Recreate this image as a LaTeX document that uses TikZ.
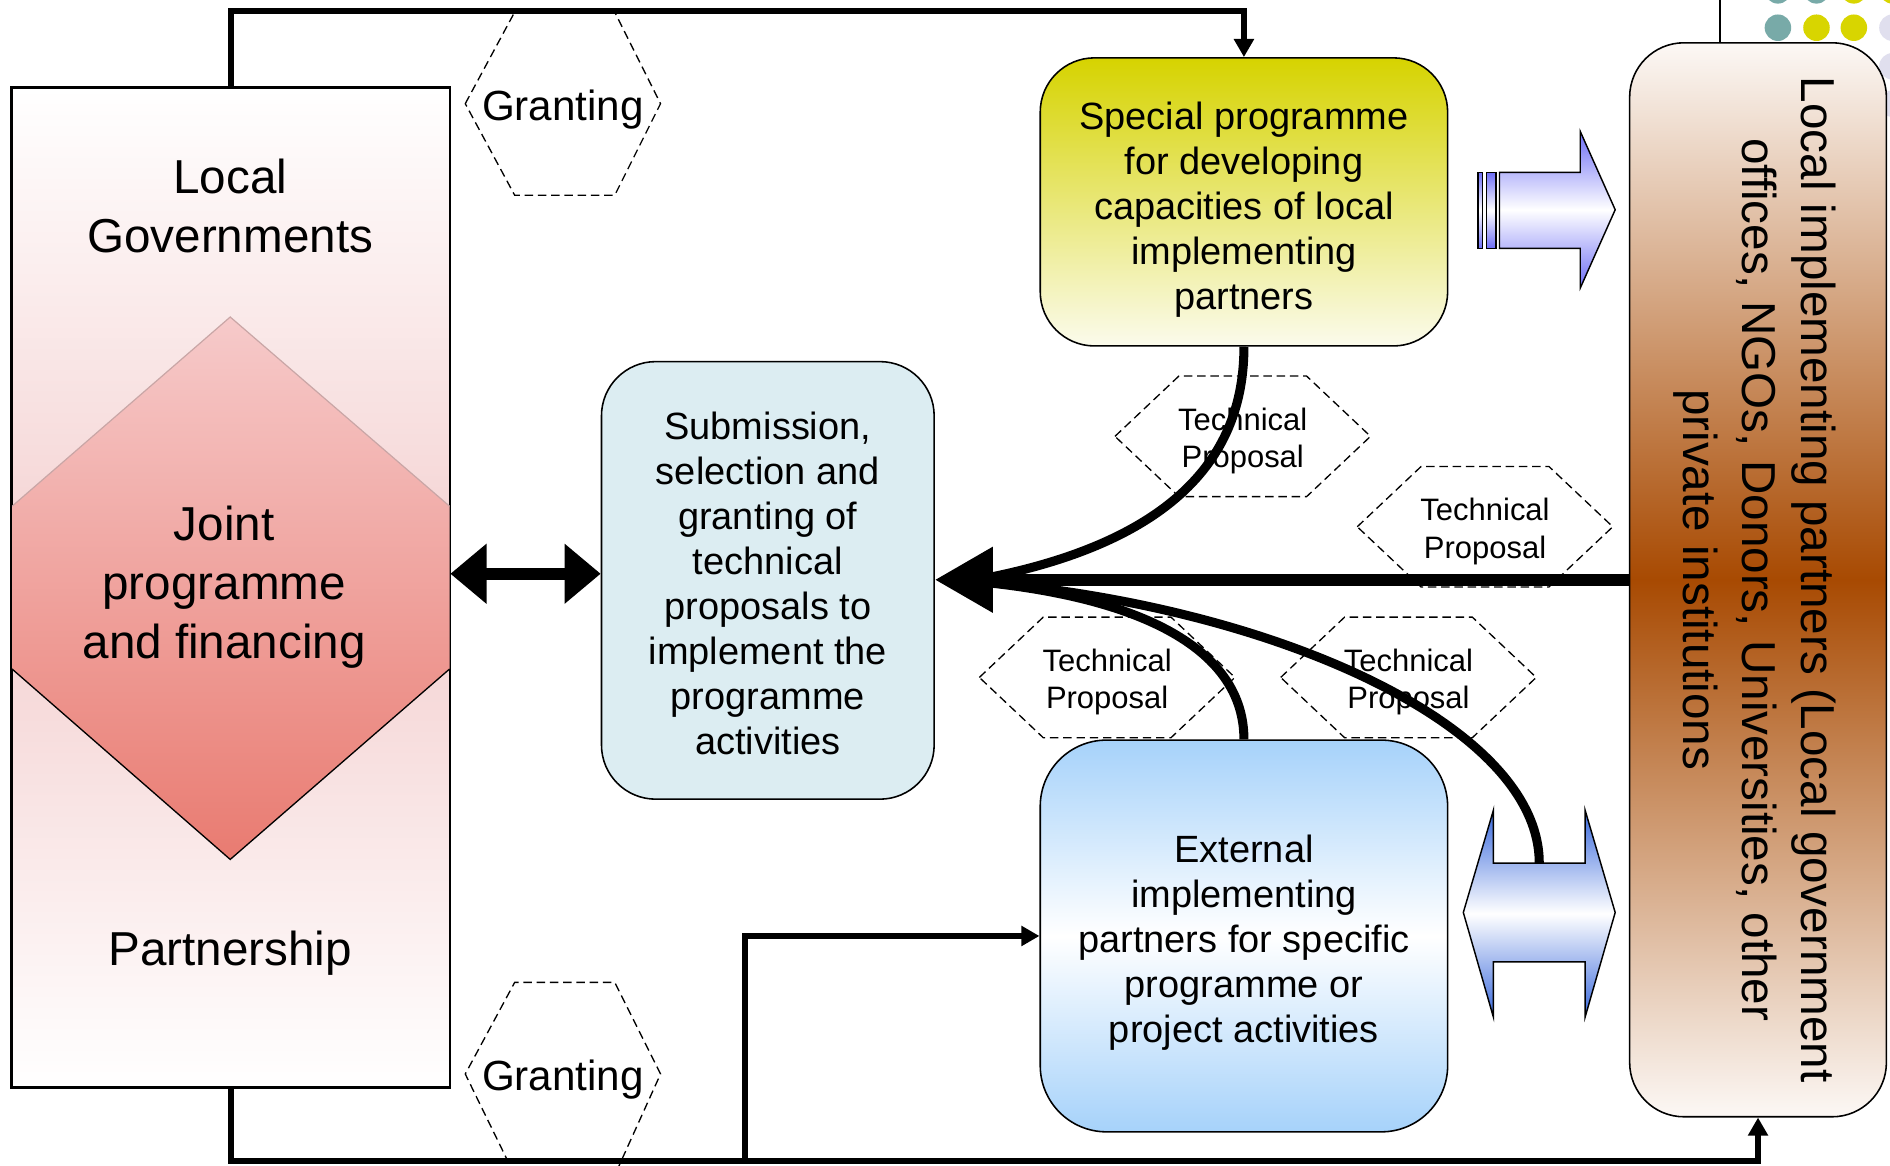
\documentclass[tikz,border=0pt]{standalone}
\usepackage{fontspec}
\setmainfont{Liberation Sans}
\usetikzlibrary{arrows.meta,calc}

\definecolor{lgpink}{HTML}{F4D0D0}
\definecolor{jptop}{HTML}{F6CACA}
\definecolor{jpbot}{HTML}{E97B71}
\definecolor{jpedge}{HTML}{C9A6A6}
\definecolor{subfill}{HTML}{DCEDF2}
\definecolor{spectop}{HTML}{D6D300}
\definecolor{specbot}{HTML}{FBFBEC}
\definecolor{extblue}{HTML}{A6D2FA}
\definecolor{locdark}{HTML}{A84A02}
\definecolor{loclight}{HTML}{FCF8F5}
\definecolor{arrviolet}{HTML}{6E6EF6}
\definecolor{arrblue}{HTML}{3868DC}
\definecolor{dotteal}{HTML}{78AAA8}
\definecolor{dotyellow}{HTML}{D8D500}
\definecolor{dotlav}{HTML}{E0DFEE}

\newcommand{\fbig}{\fontsize{39.5pt}{49pt}\selectfont}
\newcommand{\fmid}{\fontsize{31.5pt}{37.3pt}\selectfont}
\newcommand{\fsmall}{\fontsize{25.7pt}{31pt}\selectfont}
\newcommand{\fgrant}{\fontsize{35pt}{40pt}\selectfont}

\tikzset{
  box/.style={draw, line width=1.3pt, inner sep=0pt},
  txt/.style={align=center, inner sep=0pt},
  conn/.style={line width=4.8pt, -{Triangle[length=15pt,width=16pt]}},
  feed/.style={line width=7.5pt},
  hexline/.style={line width=1.1pt, dash pattern=on 7pt off 4pt},
}

\begin{document}
\begin{tikzpicture}[x=1pt, y=-1pt]
\useasboundingbox (0,0) rectangle (1568,967);
\clip (0,0) rectangle (1568,967);
\fill[white] (0,0) rectangle (1568,967);

% decorative dots and frame line, top right
\foreach \cx/\cy/\cc in {1475/-8/dotteal, 1507/-8/dotteal, 1538/-8/dotyellow, 1570/-8/dotyellow,
                         1475/23/dotteal, 1507/23/dotyellow, 1538/23/dotyellow, 1570/23/dotlav,
                         1570/55/dotlav, 1570/86/dotlav}
  \fill[\cc] (\cx,\cy) circle (11);
\draw[line width=1.5pt] (1427,0) -- (1427,40);

% left column: local governments / partnership
\node[box, minimum width=363pt, minimum height=829pt,
      top color=white, bottom color=white, middle color=lgpink] (lg) at (191.5,487.5) {};
\shade[top color=jptop, bottom color=jpbot]
  (191,263) -- (373,420) -- (373,555) -- (191,713) -- (10,555) -- (10,420) -- cycle;
\draw[jpedge, line width=1pt] (10,420) -- (191,263) -- (373,420);
\draw[line width=1.1pt] (10,555) -- (191,713) -- (373,555);
\draw[line width=1.3pt] (lg.north west) rectangle (lg.south east);
\node[txt, font=\fbig] (lgt) at (191,171) {Local\\Governments};
\node[txt, font=\fbig] (jp) at (186,487) {Joint\\programme\\and financing};
\node[txt, font=\fbig] (pt) at (191,791) {Partnership};

% central boxes
\node[box, rounded corners=45pt, minimum width=276pt, minimum height=363pt, fill=subfill] (sub) at (637,481.5) {};
\node[txt, font=\fmid] at (637,484) {Submission,\\selection and\\granting of\\technical\\proposals to\\implement the\\programme\\activities};

\node[box, rounded corners=45pt, minimum width=338pt, minimum height=239pt,
      top color=spectop, bottom color=specbot] (spec) at (1032,167.5) {};
\node[txt, font=\fmid] at (1032,174) {Special programme\\for developing\\capacities of local\\implementing\\partners};

\node[box, rounded corners=55pt, minimum width=338pt, minimum height=325pt,
      top color=extblue, bottom color=extblue, middle color=white] (ext) at (1032,776.5) {};
\node[txt, font=\fmid] at (1032,782) {External\\implementing\\partners for specific\\programme or\\project activities};

% right column
\node[box, rounded corners=45pt, minimum width=213pt, minimum height=891pt,
      top color=loclight, bottom color=loclight, middle color=locdark] (loc) at (1458.5,481) {};
\node[txt, rotate=-90, font=\fbig] at (1456,481) {Local implementing partners (Local government\\offices, NGOs, Donors, Universities, other\\private institutions};

% granting labels
\node[txt, font=\fgrant] (g1) at (467,91) {Granting};
\node[txt, font=\fgrant] (g2) at (467,896) {Granting};
\draw[hexline] (386,86) -- (427,10) -- (510,10) -- (548,86) -- (510,162) -- (427,162) -- cycle;
\draw[hexline] (427,975) -- (386,891) -- (427,815) -- (510,815) -- (548,891) -- (510,975);

% granting flows
\coordinate (topbus) at (0,9);
\coordinate (bus) at (618,963);
\draw[conn] (lg.north) -- (lg.north |- topbus) -| (spec.north);
\draw[conn] (lg.south) -- (lg.south |- bus) -| (loc.south);
\draw[conn] (bus) |- (ext.west);

% block arrows
\shade[top color=arrviolet, bottom color=arrviolet, middle color=white, draw, line width=1.2pt]
  (1226,143) rectangle (1230,206);
\shade[top color=arrviolet, bottom color=arrviolet, middle color=white, draw, line width=1.2pt]
  (1233,143) rectangle (1241,206);
\shade[top color=arrviolet, bottom color=arrviolet, middle color=white, draw, line width=1.2pt]
  (1244,143) -- (1311,143) -- (1311,109) -- (1340,174) -- (1311,239) -- (1311,206) -- (1244,206) -- cycle;
\shade[top color=arrblue, bottom color=arrblue, middle color=white, draw, line width=1.2pt]
  (1214,757) -- (1239,672) -- (1239,716) -- (1315,716) -- (1315,672) -- (1340,757)
  -- (1315,844) -- (1315,798) -- (1239,798) -- (1239,844) -- cycle;
\coordinate (dbtop) at (1277,716);

% technical proposal labels
\node[txt, font=\fsmall] (tp1) at (1031,366) {Technical\\Proposal};
\node[txt, font=\fsmall] (tp2) at (1232,441) {Technical\\Proposal};
\node[txt, font=\fsmall] (tp3) at (918.5,566) {Technical\\Proposal};
\node[txt, font=\fsmall] (tp4) at (1168.5,566) {Technical\\Proposal};
\foreach \cx/\cy in {1031/362, 1232/437, 918.5/562, 1168.5/562}
  \draw[hexline, shift={(\cx,\cy)}] (-106,0) -- (-53,-50) -- (53,-50) -- (106,0) -- (53,50) -- (-53,50) -- cycle;

% proposal flows into selection
\coordinate (merge) at (805,482);
\draw[feed] (spec.south) .. controls (1032,370) and (985,450) .. (merge);
\draw[feed] (ext.north) .. controls (1032,540) and (950,495) .. (merge);
\draw[feed] (dbtop) .. controls (1277,600) and (1050,500) .. (merge);
\draw[line width=10pt, -{Triangle[length=48pt,width=52pt]}] (loc.west) -- (loc.west -| sub.east);

% two-way link
\coordinate (dj) at (0,476);
\draw[line width=10pt, {Triangle[length=30pt,width=48pt]}-{Triangle[length=30pt,width=48pt]}]
  (lg.east |- dj) -- (sub.west |- dj);
\end{tikzpicture}
\end{document}
